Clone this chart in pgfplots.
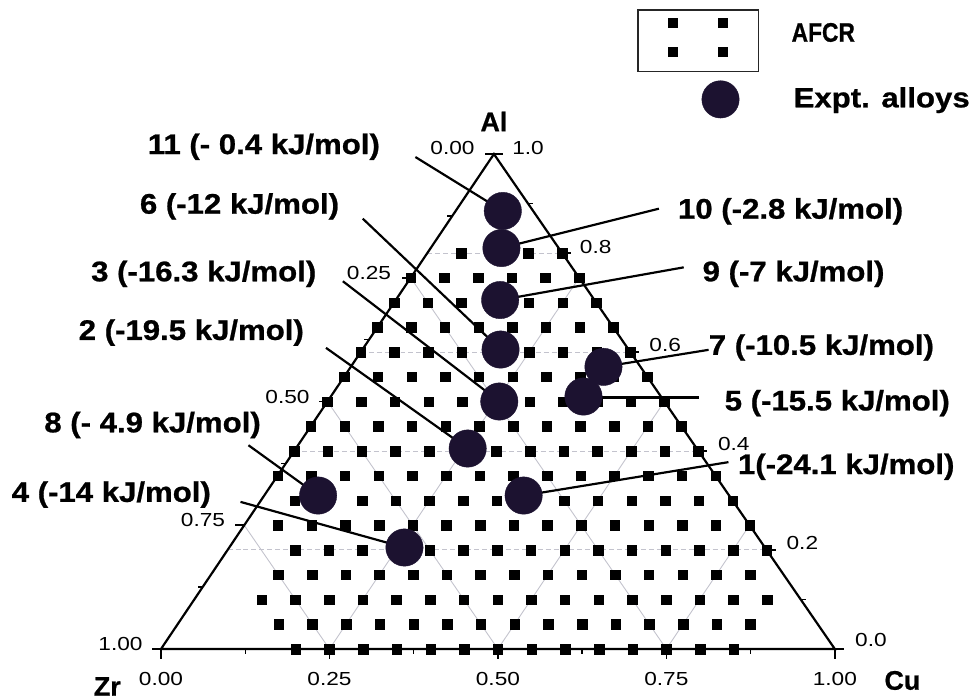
\documentclass[border=0pt]{standalone}
\usepackage{pgfplots}
\pgfplotsset{compat=1.18}
\usepackage{pgfplotstable}
\usepackage{graphicx}
\usepackage{fontspec}
\setmainfont{Liberation Sans}
\newfontfamily\heavy{Liberation Sans Bold}[FakeBold=0.8]
\definecolor{dot}{RGB}{28,18,48}
\definecolor{gridc}{RGB}{195,195,205}

% AFCR compositions: a = Al fraction, c = Cu fraction (Zr = 1-a-c)
\pgfplotstableread[row sep=\\]{
a c\\
0 0.20\\ 0 0.25\\ 0 0.30\\ 0 0.35\\ 0 0.40\\ 0 0.45\\ 0 0.50\\ 0 0.55\\ 0 0.60\\ 0 0.65\\ 0 0.70\\ 0 0.75\\ 0 0.80\\ 0 0.85\\
0.05 0.15\\ 0.05 0.20\\ 0.05 0.25\\ 0.05 0.30\\ 0.05 0.35\\ 0.05 0.40\\ 0.05 0.45\\ 0.05 0.50\\ 0.05 0.55\\ 0.05 0.60\\ 0.05 0.65\\ 0.05 0.70\\ 0.05 0.75\\ 0.05 0.80\\ 0.05 0.85\\
0.10 0.10\\ 0.10 0.15\\ 0.10 0.20\\ 0.10 0.25\\ 0.10 0.30\\ 0.10 0.35\\ 0.10 0.40\\ 0.10 0.45\\ 0.10 0.50\\ 0.10 0.55\\ 0.10 0.60\\ 0.10 0.65\\ 0.10 0.70\\ 0.10 0.75\\ 0.10 0.80\\ 0.10 0.85\\
0.15 0.10\\ 0.15 0.15\\ 0.15 0.20\\ 0.15 0.25\\ 0.15 0.30\\ 0.15 0.35\\ 0.15 0.40\\ 0.15 0.45\\ 0.15 0.50\\ 0.15 0.55\\ 0.15 0.60\\ 0.15 0.65\\ 0.15 0.70\\ 0.15 0.75\\ 0.15 0.80\\
0.20 0.10\\ 0.20 0.15\\ 0.20 0.20\\ 0.20 0.25\\ 0.20 0.30\\ 0.20 0.35\\ 0.20 0.40\\ 0.20 0.45\\ 0.20 0.50\\ 0.20 0.55\\ 0.20 0.60\\ 0.20 0.65\\ 0.20 0.70\\ 0.20 0.75\\ 0.20 0.80\\
0.25 0.05\\ 0.25 0.10\\ 0.25 0.15\\ 0.25 0.20\\ 0.25 0.25\\ 0.25 0.30\\ 0.25 0.35\\ 0.25 0.40\\ 0.25 0.45\\ 0.25 0.50\\ 0.25 0.55\\ 0.25 0.60\\ 0.25 0.65\\ 0.25 0.70\\ 0.25 0.75\\
0.30 0.05\\ 0.30 0.10\\ 0.30 0.15\\ 0.30 0.20\\ 0.30 0.25\\ 0.30 0.30\\ 0.30 0.35\\ 0.30 0.40\\ 0.30 0.45\\ 0.30 0.50\\ 0.30 0.55\\ 0.30 0.60\\ 0.30 0.65\\ 0.30 0.70\\
0.35 0.00\\ 0.35 0.05\\ 0.35 0.10\\ 0.35 0.15\\ 0.35 0.20\\ 0.35 0.25\\ 0.35 0.30\\ 0.35 0.35\\ 0.35 0.40\\ 0.35 0.45\\ 0.35 0.50\\ 0.35 0.55\\ 0.35 0.60\\ 0.35 0.65\\
0.40 0.00\\ 0.40 0.05\\ 0.40 0.10\\ 0.40 0.15\\ 0.40 0.20\\ 0.40 0.25\\ 0.40 0.30\\ 0.40 0.35\\ 0.40 0.40\\ 0.40 0.45\\ 0.40 0.50\\ 0.40 0.55\\ 0.40 0.60\\
0.45 0.00\\ 0.45 0.05\\ 0.45 0.10\\ 0.45 0.15\\ 0.45 0.20\\ 0.45 0.25\\ 0.45 0.30\\ 0.45 0.35\\ 0.45 0.40\\ 0.45 0.45\\ 0.45 0.50\\ 0.45 0.55\\
0.50 0.00\\ 0.50 0.05\\ 0.50 0.10\\ 0.50 0.15\\ 0.50 0.20\\ 0.50 0.25\\ 0.50 0.30\\ 0.50 0.35\\ 0.50 0.40\\ 0.50 0.45\\ 0.50 0.50\\
0.55 0.00\\ 0.55 0.05\\ 0.55 0.10\\ 0.55 0.15\\ 0.55 0.20\\ 0.55 0.25\\ 0.55 0.30\\ 0.55 0.35\\ 0.55 0.40\\ 0.55 0.45\\
0.60 0.00\\ 0.60 0.05\\ 0.60 0.10\\ 0.60 0.15\\ 0.60 0.20\\ 0.60 0.25\\ 0.60 0.30\\ 0.60 0.35\\ 0.60 0.40\\
0.65 0.00\\ 0.65 0.05\\ 0.65 0.10\\ 0.65 0.15\\ 0.65 0.20\\ 0.65 0.25\\ 0.65 0.30\\ 0.65 0.35\\
0.70 0.00\\ 0.70 0.05\\ 0.70 0.10\\ 0.70 0.15\\ 0.70 0.20\\ 0.70 0.25\\ 0.70 0.30\\
0.75 0.00\\ 0.75 0.05\\ 0.75 0.10\\ 0.75 0.15\\ 0.75 0.20\\ 0.75 0.25\\
0.80 0.05\\ 0.80 0.10\\ 0.80 0.15\\ 0.80 0.20\\
}\afcr

% Experimental alloys: id, Cu fraction c, Al fraction a
\pgfplotstableread[row sep=\\]{
id c a\\
11 0.070 0.885\\
10 0.105 0.810\\
9 0.155 0.705\\
6 0.205 0.605\\
3 0.255 0.500\\
2 0.255 0.405\\
8 0.080 0.310\\
4 0.260 0.205\\
1 0.385 0.310\\
7 0.375 0.570\\
5 0.375 0.510\\
}\expt

\newcommand{\lab}[1]{\scalebox{1.1}[1]{\fontsize{28.5}{30}\selectfont\heavy #1}}
\newcommand{\tl}[1]{\scalebox{1.2}[1]{\fontsize{19}{20}\selectfont #1}}
\newcommand{\el}[1]{{\fontsize{27}{28}\selectfont\heavy #1}}

\begin{document}
\begin{tikzpicture}
\begin{axis}[
  width=973pt, height=704pt, scale only axis,
  xmin=0, xmax=973, ymin=0, ymax=704, y dir=reverse,
  axis line style={draw=none}, xtick=\empty, ytick=\empty,
  clip=false,
  every node/.style={inner sep=0pt},
]
\path (rel axis cs:0,0) rectangle (rel axis cs:1,1);

% --- grid lines ---
\addplot[gridc, line width=1pt, dash pattern=on 5pt off 3pt] coordinates {(229,553.4) (771.4,553.4)};
\addplot[gridc, line width=1pt, dash pattern=on 5pt off 3pt] coordinates {(296,453.8) (702.8,453.8)};
\addplot[gridc, line width=1pt, dash pattern=on 5pt off 3pt] coordinates {(363,354.2) (634.2,354.2)};
\addplot[gridc, line width=1pt, dash pattern=on 5pt off 3pt] coordinates {(430,254.6) (565.6,254.6)};
\addplot[gridc, line width=0.9pt] coordinates {(331.5,653) (582.75,279.5)};
\addplot[gridc, line width=0.9pt] coordinates {(501,653) (668.5,404)};
\addplot[gridc, line width=0.9pt] coordinates {(670.5,653) (754.25,528.5)};
\addplot[gridc, line width=0.9pt] coordinates {(670.5,653) (413.25,279.5)};
\addplot[gridc, line width=0.9pt] coordinates {(501,653) (329.5,404)};
\addplot[gridc, line width=0.9pt] coordinates {(331.5,653) (245.75,528.5)};

% --- triangle ---
\addplot[black, line width=2.2pt] coordinates {(162,653) (840,653) (497,155) (162,653)};

% --- ticks: bottom (Cu) ---
\draw[black, line width=1.6pt] (axis cs:162,653) -- (axis cs:162,663);
\draw[black, line width=1.6pt] (axis cs:331.5,653) -- (axis cs:331.5,663);
\draw[black, line width=1.6pt] (axis cs:501,653) -- (axis cs:501,663);
\draw[black, line width=1.6pt] (axis cs:670.5,653) -- (axis cs:670.5,663);
\draw[black, line width=1.6pt] (axis cs:840,653) -- (axis cs:840,663);
\draw[black, line width=1.3pt] (axis cs:246.75,653) -- (axis cs:246.75,658);
\draw[black, line width=1.3pt] (axis cs:416.25,653) -- (axis cs:416.25,658);
\draw[black, line width=1.3pt] (axis cs:585.75,653) -- (axis cs:585.75,658);
\draw[black, line width=1.3pt] (axis cs:755.25,653) -- (axis cs:755.25,658);
% --- ticks: left (Zr) ---
\draw[black, line width=1.6pt] (axis cs:497,155) -- (axis cs:488,155);
\draw[black, line width=1.6pt] (axis cs:413.25,279.5) -- (axis cs:404.25,279.5);
\draw[black, line width=1.6pt] (axis cs:329.5,404) -- (axis cs:320.5,404);
\draw[black, line width=1.6pt] (axis cs:245.75,528.5) -- (axis cs:236.75,528.5);
\draw[black, line width=1.6pt] (axis cs:162,653) -- (axis cs:153,653);
\draw[black, line width=1.3pt] (axis cs:455.1,217.25) -- (axis cs:450.1,217.25);
\draw[black, line width=1.3pt] (axis cs:371.4,341.75) -- (axis cs:366.4,341.75);
\draw[black, line width=1.3pt] (axis cs:287.6,466.25) -- (axis cs:282.6,466.25);
\draw[black, line width=1.3pt] (axis cs:203.9,590.75) -- (axis cs:198.9,590.75);
% --- ticks: right (Al) ---
\draw[black, line width=1.6pt] (axis cs:497,155) -- (axis cs:506,155);
\draw[black, line width=1.6pt] (axis cs:565.6,254.6) -- (axis cs:574.6,254.6);
\draw[black, line width=1.6pt] (axis cs:634.2,354.2) -- (axis cs:643.2,354.2);
\draw[black, line width=1.6pt] (axis cs:702.8,453.8) -- (axis cs:711.8,453.8);
\draw[black, line width=1.6pt] (axis cs:771.4,553.4) -- (axis cs:780.4,553.4);
\draw[black, line width=1.6pt] (axis cs:840,653) -- (axis cs:849,653);
\draw[black, line width=1.3pt] (axis cs:531.3,204.8) -- (axis cs:536.3,204.8);
\draw[black, line width=1.3pt] (axis cs:599.9,304.4) -- (axis cs:604.9,304.4);
\draw[black, line width=1.3pt] (axis cs:668.5,404) -- (axis cs:673.5,404);
\draw[black, line width=1.3pt] (axis cs:737.1,503.6) -- (axis cs:742.1,503.6);
\draw[black, line width=1.3pt] (axis cs:805.7,603.2) -- (axis cs:810.7,603.2);

% --- tick labels ---
\node[anchor=base east] at (axis cs:481,155) {\tl{0.00}};
\node[anchor=base east] at (axis cs:397,281) {\tl{0.25}};
\node[anchor=base east] at (axis cs:315,406) {\tl{0.50}};
\node[anchor=base east] at (axis cs:230,530) {\tl{0.75}};
\node[anchor=base east] at (axis cs:147,655) {\tl{1.00}};
\node[anchor=base west] at (axis cs:512,155) {\tl{1.0}};
\node[anchor=base west] at (axis cs:580,255) {\tl{0.8}};
\node[anchor=base west] at (axis cs:650,354) {\tl{0.6}};
\node[anchor=base west] at (axis cs:719,453) {\tl{0.4}};
\node[anchor=base west] at (axis cs:788,553) {\tl{0.2}};
\node[anchor=base west] at (axis cs:857,651) {\tl{0.0}};
\node[anchor=base] at (axis cs:162,690) {\tl{0.00}};
\node[anchor=base] at (axis cs:331.5,690) {\tl{0.25}};
\node[anchor=base] at (axis cs:501,690) {\tl{0.50}};
\node[anchor=base] at (axis cs:670.5,690) {\tl{0.75}};
\node[anchor=base] at (axis cs:840,690) {\tl{1.00}};

% --- element labels ---
\node[anchor=base] at (axis cs:497,132) {\el{Al}};
\node[anchor=base] at (axis cs:108,700) {\el{Zr}};
\node[anchor=base] at (axis cs:908,694) {\el{Cu}};

% --- AFCR squares ---
\addplot[only marks, mark=square*, mark size=4.8pt, black]
  table[x expr={162+678*\thisrow{c}+335*\thisrow{a}}, y expr={653-498*\thisrow{a}}] {\afcr};

% --- leader lines ---
\addplot[black, line width=2.2pt] coordinates {(418,158) (505.9,212.3)};
\addplot[black, line width=2.2pt] coordinates {(365,220) (503.7,351.7)};
\addplot[black, line width=2.2pt] coordinates {(345,283) (502.4,404)};
\addplot[black, line width=2.2pt] coordinates {(328,350) (470.6,451.3)};
\addplot[black, line width=2.2pt] coordinates {(250,448) (320.1,498.6)};
\addplot[black, line width=2.2pt] coordinates {(242,505) (407,550.9)};
\addplot[black, line width=2.2pt] coordinates {(663,210) (504.5,249.6)};
\addplot[black, line width=2.2pt] coordinates {(688,269) (503.3,301.9)};
\addplot[black, line width=2.2pt] coordinates {(713,352) (607.2,369.1)};
\addplot[black, line width=2.2pt] coordinates {(703,400) (587.1,400)};
\addplot[black, line width=2.2pt] coordinates {(733,465) (526.9,498.6)};

% --- experimental alloys ---
\addplot[only marks, mark=*, mark size=18.8pt, dot, mark options={draw=dot, fill=dot}]
  table[x expr={162+678*\thisrow{c}+335*\thisrow{a}}, y expr={653-498*\thisrow{a}}] {\expt};

% --- annotation labels ---
\node[anchor=base] at (axis cs:265.5,155) {\lab{11 (- 0.4 kJ/mol)}};
\node[anchor=base] at (axis cs:241,215) {\lab{6 (-12 kJ/mol)}};
\node[anchor=base] at (axis cs:205,283) {\lab{3 (-16.3 kJ/mol)}};
\node[anchor=base] at (axis cs:192.5,342) {\lab{2 (-19.5 kJ/mol)}};
\node[anchor=base] at (axis cs:153.5,435) {\lab{8 (- 4.9 kJ/mol)}};
\node[anchor=base] at (axis cs:112,505) {\lab{4 (-14 kJ/mol)}};
\node[anchor=base] at (axis cs:795.5,220) {\lab{10 (-2.8 kJ/mol)}};
\node[anchor=base] at (axis cs:798.5,283) {\lab{9 (-7 kJ/mol)}};
\node[anchor=base] at (axis cs:826.5,357) {\lab{7 (-10.5 kJ/mol)}};
\node[anchor=base] at (axis cs:842.5,413) {\lab{5 (-15.5 kJ/mol)}};
\node[anchor=base] at (axis cs:851.5,477) {\lab{1(-24.1 kJ/mol)}};

% --- legend ---
\draw[black!85, line width=1.3pt] (axis cs:642,10) rectangle (axis cs:763,72);
\addplot[only marks, mark=square*, mark size=4.8pt, black] coordinates {(677,23) (727,23) (677,52) (727,52)};
\addplot[only marks, mark=*, mark size=18.8pt, dot, mark options={draw=dot, fill=dot}] coordinates {(725,100)};
\node[anchor=base west] at (axis cs:793,42) {\scalebox{0.85}[1]{\fontsize{27}{28}\selectfont\heavy AFCR}};
\node[anchor=base west] at (axis cs:795,108) {\scalebox{1.12}[1]{\fontsize{28}{30}\selectfont\heavy Expt. alloys}};
\end{axis}
\end{tikzpicture}
\end{document}
